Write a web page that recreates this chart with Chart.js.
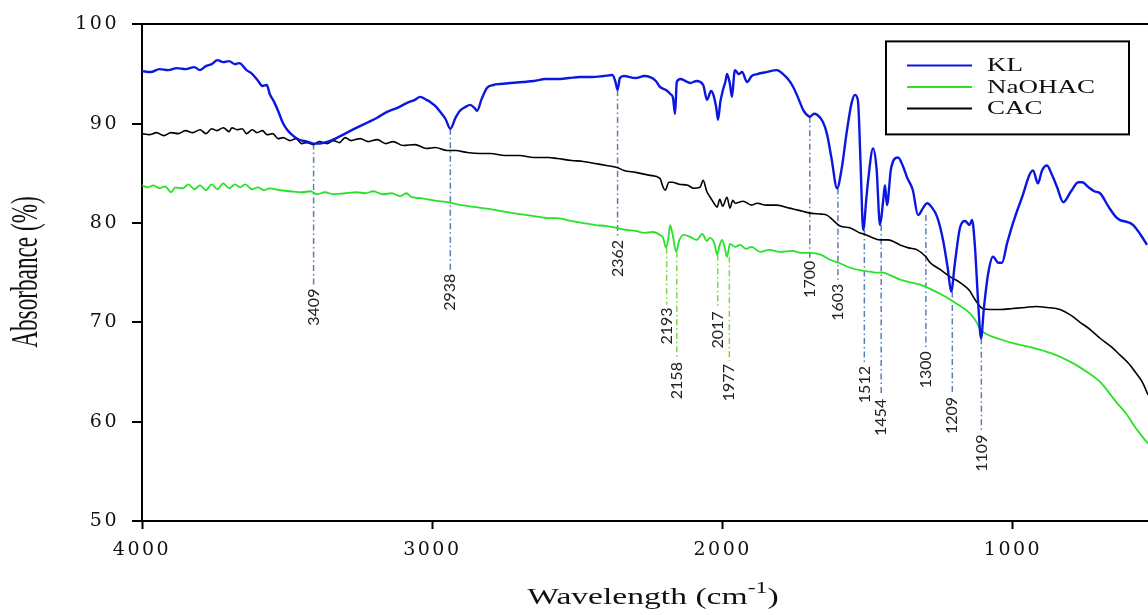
<!DOCTYPE html>
<html>
<head>
<meta charset="utf-8">
<title>FTIR spectra</title>
<script src="https://cdn.jsdelivr.net/npm/chart.js@4.4.1/dist/chart.umd.min.js"></script>
<style>
  html, body { margin: 0; padding: 0; background: #fff; }
  #wrap { width: 1148px; height: 615px; position: relative; }
</style>
</head>
<body>
<div id="wrap"><canvas id="ftir"></canvas></div>
<script>
// wavenumber (cm-1) / absorbance (%) for each sample
const klWave = [4000, 3970, 3940, 3910, 3880, 3850, 3820, 3800, 3780, 3760, 3740, 3720, 3700, 3680, 3665, 3640, 3620, 3600, 3585, 3570, 3560, 3545, 3530, 3515, 3500, 3480, 3460, 3432, 3409, 3387, 3360, 3342, 3320, 3294, 3260, 3225, 3190, 3156, 3120, 3087, 3060, 3042, 3020, 3008, 2990, 2973, 2955, 2938, 2920, 2905, 2885, 2870, 2855, 2846, 2830, 2812, 2790, 2767, 2730, 2688, 2650, 2610, 2570, 2530, 2490, 2450, 2410, 2380, 2370, 2362, 2354, 2340, 2300, 2270, 2250, 2230, 2216, 2195, 2180, 2171, 2164, 2158, 2145, 2112, 2090, 2067, 2054, 2040, 2033, 2022, 2016, 2008, 1999, 1990, 1985, 1975, 1968, 1960, 1957, 1945, 1933, 1916, 1900, 1881, 1850, 1813, 1792, 1775, 1757, 1740, 1723, 1710, 1700, 1685, 1675, 1655, 1641, 1625, 1606, 1590, 1572, 1555, 1544, 1534, 1525, 1516, 1505, 1499, 1482, 1470, 1458, 1448, 1441, 1434, 1420, 1396, 1380, 1365, 1345, 1327, 1310, 1296, 1280, 1261, 1241, 1225, 1213, 1200, 1182, 1165, 1150, 1141, 1131, 1120, 1110, 1100, 1085, 1069, 1050, 1038, 1020, 1000, 970, 931, 914, 900, 883, 865, 848, 827, 800, 775, 762, 740, 720, 700, 670, 645, 631, 605, 586, 560, 538];
const klValue = [95.3, 95.2, 95.5, 95.4, 95.6, 95.5, 95.7, 95.4, 95.8, 96.0, 96.4, 96.2, 96.3, 96.0, 96.1, 95.4, 95.0, 94.3, 93.8, 93.9, 93.0, 92.2, 91.2, 90.1, 89.4, 88.8, 88.4, 88.2, 88.0, 88.0, 88.2, 88.4, 88.7, 89.1, 89.6, 90.1, 90.6, 91.2, 91.6, 92.1, 92.4, 92.7, 92.4, 92.2, 91.8, 91.2, 90.5, 89.5, 90.6, 91.3, 91.7, 91.9, 91.6, 91.3, 92.5, 93.6, 93.9, 94.0, 94.1, 94.2, 94.3, 94.5, 94.5, 94.6, 94.7, 94.7, 94.8, 94.9, 94.3, 93.4, 94.6, 94.8, 94.6, 94.8, 94.7, 94.3, 93.7, 93.4, 93.0, 92.6, 91.0, 94.2, 94.5, 94.1, 94.3, 93.9, 92.4, 93.3, 93.0, 91.6, 90.4, 92.2, 93.4, 94.3, 95.0, 94.0, 92.7, 95.1, 95.4, 95.0, 95.2, 94.2, 94.8, 95.0, 95.2, 95.4, 95.0, 94.5, 93.7, 92.6, 91.4, 90.9, 90.7, 91.0, 90.9, 90.2, 89.0, 86.5, 83.5, 85.5, 89.3, 92.2, 92.9, 92.3, 86.0, 79.3, 82.5, 84.3, 87.5, 85.5, 79.8, 82.0, 83.8, 81.8, 85.5, 86.6, 85.8, 84.6, 83.3, 80.8, 81.5, 82.0, 81.6, 80.6, 78.3, 75.5, 73.1, 76.0, 79.6, 80.2, 79.8, 80.3, 77.6, 72.0, 68.4, 71.5, 75.0, 76.6, 76.0, 76.0, 78.0, 80.0, 82.5, 85.3, 84.0, 85.3, 85.8, 84.8, 83.6, 82.1, 83.2, 84.1, 84.1, 83.6, 83.2, 83.0, 81.6, 80.6, 80.3, 80.1, 79.8, 78.8, 77.8];

const naohacWave = [4000, 3980, 3960, 3940, 3920, 3900, 3885, 3860, 3840, 3820, 3800, 3780, 3760, 3740, 3720, 3700, 3680, 3662, 3645, 3620, 3600, 3580, 3560, 3525, 3490, 3450, 3420, 3397, 3370, 3340, 3300, 3260, 3230, 3204, 3170, 3140, 3111, 3090, 3070, 3040, 3000, 2949, 2900, 2850, 2800, 2743, 2700, 2650, 2600, 2570, 2520, 2480, 2440, 2400, 2364, 2330, 2300, 2270, 2240, 2216, 2205, 2195, 2186, 2181, 2172, 2160, 2150, 2135, 2112, 2090, 2070, 2055, 2043, 2028, 2019, 2010, 2002, 1993, 1985, 1975, 1957, 1940, 1920, 1900, 1871, 1840, 1802, 1760, 1730, 1700, 1660, 1630, 1600, 1561, 1520, 1492, 1470, 1448, 1420, 1389, 1350, 1320, 1280, 1234, 1190, 1148, 1125, 1113, 1090, 1044, 1000, 940, 869, 800, 745, 700, 645, 610, 583, 560, 535];
const naohacValue = [83.8, 83.6, 83.8, 83.5, 83.7, 83.1, 83.6, 83.5, 83.9, 83.4, 83.8, 83.3, 83.9, 83.4, 84.0, 83.5, 83.9, 83.6, 83.9, 83.4, 83.6, 83.3, 83.5, 83.3, 83.2, 83.1, 83.2, 82.9, 83.1, 82.9, 83.0, 83.1, 83.0, 83.2, 82.9, 83.0, 82.7, 83.0, 82.6, 82.5, 82.3, 82.1, 81.8, 81.6, 81.4, 81.1, 80.9, 80.7, 80.5, 80.5, 80.2, 80.0, 79.8, 79.7, 79.5, 79.3, 79.2, 79.0, 79.1, 78.8, 78.5, 77.5, 78.7, 79.8, 78.8, 77.1, 78.2, 78.8, 78.6, 78.3, 78.9, 78.2, 78.5, 77.9, 76.8, 77.8, 78.3, 77.5, 76.6, 77.9, 77.6, 77.8, 77.4, 77.6, 77.1, 77.3, 77.1, 77.2, 77.0, 77.0, 76.8, 76.3, 76.0, 75.5, 75.2, 75.1, 75.0, 75.0, 74.7, 74.3, 74.0, 73.8, 73.3, 72.6, 71.8, 70.9, 70.0, 69.3, 68.8, 68.3, 67.9, 67.5, 66.9, 66.0, 65.0, 64.0, 62.0, 60.8, 59.6, 58.7, 57.8];

const cacWave = [4000, 3975, 3950, 3925, 3900, 3875, 3850, 3825, 3800, 3780, 3760, 3742, 3720, 3700, 3690, 3673, 3655, 3640, 3620, 3604, 3585, 3569, 3550, 3530, 3514, 3490, 3470, 3450, 3432, 3410, 3390, 3363, 3340, 3320, 3300, 3280, 3249, 3220, 3190, 3160, 3135, 3100, 3060, 3020, 2990, 2949, 2920, 2880, 2836, 2800, 2750, 2700, 2650, 2600, 2570, 2520, 2480, 2440, 2400, 2364, 2340, 2300, 2250, 2216, 2205, 2198, 2185, 2174, 2150, 2120, 2100, 2078, 2067, 2055, 2043, 2030, 2019, 2010, 2000, 1985, 1975, 1965, 1957, 1930, 1900, 1881, 1850, 1813, 1770, 1740, 1700, 1660, 1641, 1620, 1596, 1560, 1527, 1515, 1490, 1458, 1430, 1389, 1360, 1330, 1300, 1285, 1250, 1217, 1182, 1150, 1131, 1105, 1079, 1044, 1000, 958, 920, 883, 838, 800, 769, 735, 700, 660, 631, 600, 579, 555, 535];
const cacValue = [89.0, 88.9, 89.1, 88.8, 89.1, 89.0, 89.3, 89.1, 89.4, 89.0, 89.5, 89.3, 89.6, 89.2, 89.6, 89.4, 89.5, 89.0, 89.4, 89.1, 89.3, 88.9, 89.0, 88.5, 88.6, 88.3, 88.5, 88.0, 88.1, 87.9, 88.2, 88.0, 88.3, 88.1, 88.6, 88.3, 88.5, 88.2, 88.4, 88.0, 88.2, 87.8, 87.9, 87.5, 87.6, 87.3, 87.3, 87.1, 87.0, 87.0, 86.8, 86.8, 86.6, 86.6, 86.5, 86.3, 86.2, 86.0, 85.8, 85.6, 85.3, 85.1, 84.8, 84.5, 83.6, 83.3, 84.1, 84.1, 83.9, 83.8, 83.5, 83.6, 84.3, 83.2, 82.6, 82.0, 81.6, 82.4, 81.7, 82.6, 81.5, 82.3, 82.0, 82.2, 81.8, 82.0, 81.8, 81.8, 81.5, 81.3, 81.0, 80.9, 80.8, 80.3, 79.7, 79.5, 79.0, 78.9, 78.6, 78.3, 78.3, 77.8, 77.5, 77.3, 76.6, 76.0, 75.3, 74.6, 74.0, 73.2, 72.3, 71.4, 71.3, 71.3, 71.4, 71.5, 71.6, 71.5, 71.3, 70.7, 70.0, 69.3, 68.4, 67.5, 66.7, 65.8, 65.0, 64.0, 62.7];

const xTicks = [4000, 3000, 2000, 1000];
const yTicks = [50, 60, 70, 80, 90, 100];

// marked bands: wavenumber, which spectrum, where the guide starts and where its label sits (absorbance units)
const peakWave = [3409, 2938, 2362, 2193, 2158, 2017, 1977, 1700, 1603, 1512, 1454, 1300, 1209, 1109];
const peakSeries = ['KL', 'KL', 'KL', 'NaOHAC', 'NaOHAC', 'NaOHAC', 'NaOHAC', 'KL', 'KL', 'KL', 'KL', 'KL', 'KL', 'KL'];
const peakFrom = [88.0, 89.5, 93.4, 77.5, 77.1, 76.8, 76.6, 90.7, 83.5, 79.3, 79.8, 80.8, 73.1, 68.4];
const peakLabelAt = [73.4, 74.9, 78.3, 71.5, 66.0, 71.1, 65.8, 76.2, 73.9, 65.6, 62.3, 67.1, 62.5, 58.7];

const toPoints = (xs, ys) => xs.map((x, i) => ({ x: x, y: ys[i] }));

const SERIF = '"Liberation Serif", "Times New Roman", serif';

// text squeezed/stretched horizontally, like the exported figure
function wideText(ctx, text, x, y, font, sx, align) {
    ctx.save();
    ctx.font = font;
    const w = ctx.measureText(text).width * sx;
    const x0 = align === 'center' ? x - w / 2 : (align === 'right' ? x - w : x);
    ctx.translate(x0, y);
    ctx.scale(sx, 1);
    ctx.textAlign = 'left';
    ctx.fillText(text, 0, 0);
    ctx.restore();
    return w;
}

const tickSpacing = {
    id: 'tickSpacing',
    beforeDraw(chart) {
        chart.ctx.letterSpacing = '2.5px';
    },
    beforeDatasetsDraw(chart) {
        chart.ctx.letterSpacing = '0px';
    }
};

const peakMarkers = {
    id: 'peakMarkers',
    beforeDatasetsDraw(chart) {
        const { ctx, scales: { x, y } } = chart;
        ctx.save();
        ctx.letterSpacing = '0px';
        peakWave.forEach((w, i) => {
            const px = x.getPixelForValue(w);
            const top = y.getPixelForValue(peakFrom[i]);
            const lab = y.getPixelForValue(peakLabelAt[i]);
            ctx.strokeStyle = peakSeries[i] === 'NaOHAC' ? '#7fd64a' : '#5a7fb5';
            ctx.lineWidth = 1.5;
            ctx.setLineDash([6, 3, 1.5, 3]);
            ctx.beginPath();
            ctx.moveTo(px, top);
            ctx.lineTo(px, lab - 3);
            ctx.stroke();

            ctx.save();
            ctx.translate(px, lab);
            ctx.rotate(-Math.PI / 2);
            ctx.fillStyle = '#222';
            ctx.font = '16px Lato, "Liberation Sans", sans-serif';
            ctx.textAlign = 'right';
            ctx.textBaseline = 'middle';
            ctx.fillText(String(w), 0, 0);
            ctx.restore();
        });
        ctx.restore();
    }
};

const frameText = {
    id: 'frameText',
    afterDraw(chart) {
        const { ctx, chartArea } = chart;
        ctx.save();
        ctx.letterSpacing = '0px';
        ctx.fillStyle = '#111';
        ctx.textBaseline = 'alphabetic';

        // legend box
        const bx = chartArea.right - 262, by = chartArea.top + 17, bw = 243, bh = 93;
        ctx.strokeStyle = '#000';
        ctx.lineWidth = 2;
        ctx.setLineDash([]);
        ctx.strokeRect(bx, by, bw, bh);
        chart.data.datasets.forEach((ds, i) => {
            const ly = by + 24 + i * 21.5;
            ctx.strokeStyle = ds.borderColor;
            ctx.lineWidth = 2;
            ctx.beginPath();
            ctx.moveTo(bx + 21, ly);
            ctx.lineTo(bx + 86, ly);
            ctx.stroke();
            wideText(ctx, ds.label, bx + 101, ly + 6, '18px ' + SERIF, 1.5, 'left');
        });

        // x title with superscript
        const main = 'Wavelength (cm';
        const f1 = '24px ' + SERIF, f2 = '17px ' + SERIF, sx = 1.4;
        ctx.font = f1;
        const w1 = ctx.measureText(main).width * sx;
        const w3 = ctx.measureText(')').width * sx;
        ctx.font = f2;
        const w2 = ctx.measureText('-1').width * sx;
        let tx = 653 - (w1 + w2 + w3) / 2;
        const base = 604;
        tx += wideText(ctx, main, tx, base, f1, sx, 'left');
        tx += wideText(ctx, '-1', tx, base - 11, f2, sx, 'left');
        wideText(ctx, ')', tx, base, f1, sx, 'left');

        // y title, rotated and squeezed
        ctx.save();
        ctx.translate(27, 272);
        ctx.rotate(-Math.PI / 2);
        ctx.scale(0.86, 1.4);
        ctx.font = '27px ' + SERIF;
        ctx.textAlign = 'center';
        ctx.textBaseline = 'middle';
        ctx.fillText('Absorbance (%)', 0, 0);
        ctx.restore();

        ctx.restore();
    }
};

new Chart(document.getElementById('ftir'), {
    type: 'line',
    data: {
        datasets: [
            { label: 'KL', data: toPoints(klWave, klValue), borderColor: '#0b17e0', borderWidth: 2.4 },
            { label: 'NaOHAC', data: toPoints(naohacWave, naohacValue), borderColor: '#27e327', borderWidth: 1.8 },
            { label: 'CAC', data: toPoints(cacWave, cacValue), borderColor: '#000000', borderWidth: 1.6 }
        ]
    },
    options: {
        responsive: true,
        maintainAspectRatio: false,
        animation: false,
        layout: { padding: { top: 24, right: 0, bottom: 0, left: 0 } },
        elements: {
            point: { radius: 0 },
            line: { cubicInterpolationMode: 'monotone', fill: false }
        },
        plugins: {
            legend: { display: false },
            tooltip: { enabled: false }
        },
        scales: {
            x: {
                type: 'linear',
                reverse: true,
                min: 535,
                max: 4000,
                afterBuildTicks: scale => { scale.ticks = xTicks.map(v => ({ value: v })); },
                afterFit: scale => { scale.height = 94; },
                border: { display: true, color: '#000', width: 2 },
                grid: { drawOnChartArea: false, drawTicks: true, tickLength: 8, tickColor: '#000', tickWidth: 2 },
                ticks: {
                    color: '#111',
                    padding: 10,
                    maxRotation: 0,
                    callback: v => String(v),
                    font: { family: 'DejaVu Serif', size: 19 }
                }
            },
            y: {
                min: 50,
                max: 100,
                afterBuildTicks: scale => { scale.ticks = yTicks.map(v => ({ value: v })); },
                afterFit: scale => { scale.width = 142; },
                border: { display: true, color: '#000', width: 2 },
                grid: {
                    drawOnChartArea: true,
                    color: c => (c.tick && c.tick.value === 100 ? '#000' : 'rgba(0,0,0,0)'),
                    lineWidth: 2,
                    drawTicks: true,
                    tickLength: 10,
                    tickColor: '#000',
                    tickWidth: 2
                },
                ticks: {
                    color: '#111',
                    padding: 13,
                    callback: v => String(v),
                    font: { family: 'DejaVu Serif', size: 19 }
                }
            }
        }
    },
    plugins: [tickSpacing, peakMarkers, frameText]
});
</script>
</body>
</html>
